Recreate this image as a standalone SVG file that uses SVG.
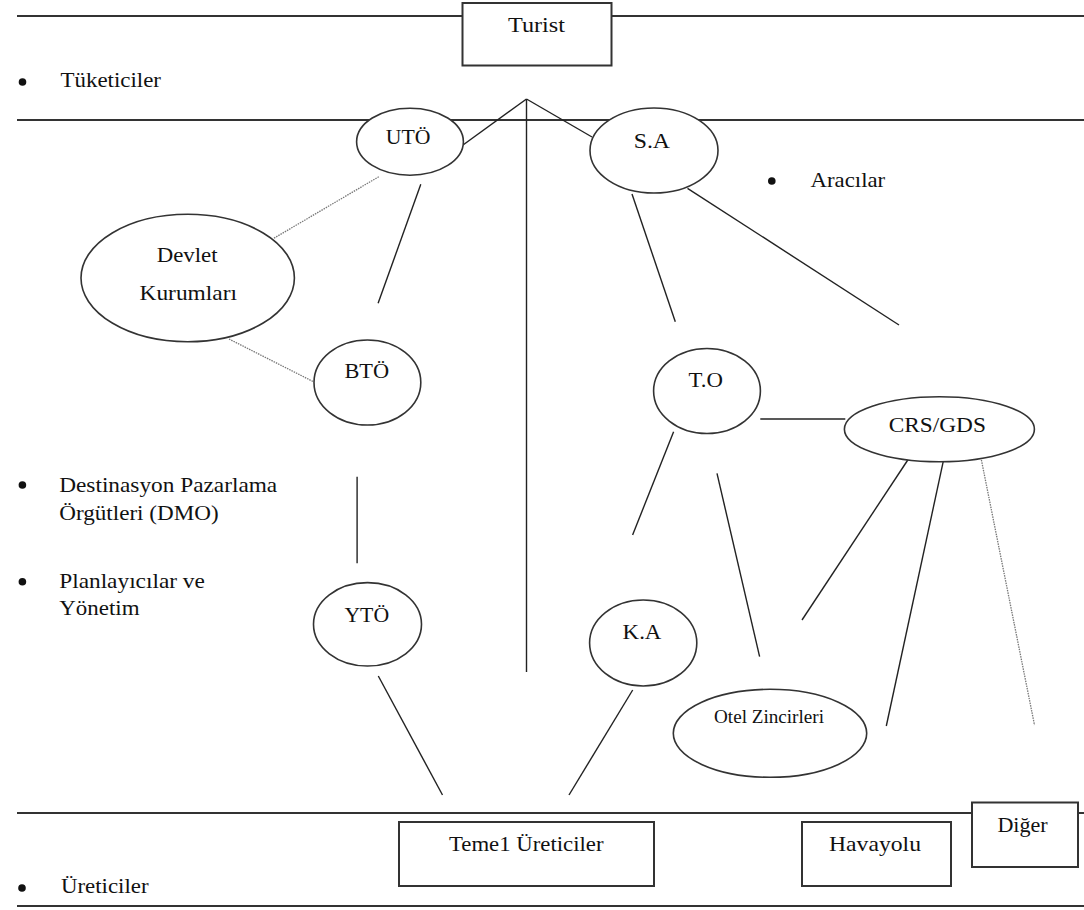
<svg xmlns="http://www.w3.org/2000/svg" width="1084" height="910" viewBox="0 0 1084 910">
<style>
.ln{stroke:#222;stroke-width:1.4;fill:none}
.hl{stroke:#333;stroke-width:2;fill:none}
.dt{stroke:#777;stroke-width:1.3;stroke-dasharray:1.5 1;fill:none}
.el{fill:#fff;stroke:#333;stroke-width:1.6}
.bx{fill:#fff;stroke:#333;stroke-width:2}
.t{font-family:'Liberation Serif','DejaVu Serif',serif;font-size:22px;fill:#111}
.sm{font-size:19px}
.bul{fill:#111}
</style>
<rect width="1084" height="910" fill="#fff"/>
<g id="frame">
<line class="hl" x1="17" y1="16" x2="462" y2="16"/>
<line class="hl" x1="611" y1="16" x2="1084" y2="16"/>
<line class="hl" x1="17" y1="120" x2="1084" y2="120"/>
<line class="hl" x1="17" y1="813" x2="1084" y2="813"/>
<line class="hl" x1="17" y1="906" x2="1084" y2="906"/>
</g>
<g id="connectors">
<line class="ln" x1="463" y1="145" x2="526.5" y2="99"/>
<line class="ln" x1="526.5" y1="99" x2="592" y2="137"/>
<line class="ln" x1="526.5" y1="99" x2="526.5" y2="672"/>
<line class="ln" x1="420.8" y1="184.3" x2="378.1" y2="303.3"/>
<line class="dt" x1="378.8" y1="176.7" x2="273.8" y2="238.3"/>
<line class="dt" x1="229" y1="339" x2="313.4" y2="381.7"/>
<line class="ln" x1="632" y1="194" x2="675.3" y2="321.7"/>
<line class="ln" x1="687.5" y1="188.3" x2="899" y2="325"/>
<line class="ln" x1="760.3" y1="419" x2="845.3" y2="419"/>
<line class="ln" x1="673.6" y1="431.7" x2="632.6" y2="535"/>
<line class="ln" x1="717" y1="473.3" x2="759.6" y2="656.7"/>
<line class="ln" x1="907.8" y1="460" x2="802" y2="620"/>
<line class="ln" x1="943.2" y1="461.7" x2="886.3" y2="726"/>
<line class="dt" x1="981.4" y1="460" x2="1034.5" y2="725"/>
<line class="ln" x1="357.1" y1="476.7" x2="357.1" y2="563.3"/>
<line class="ln" x1="378.3" y1="676" x2="442.5" y2="795"/>
<line class="ln" x1="632.7" y1="690" x2="569" y2="795"/>
</g>
<g font-family="'Liberation Serif', serif">
<g id="turist">
<rect class="bx" x="462.5" y="3" width="149" height="62.5"/>
<text class="t" x="508" y="32" textLength="57" lengthAdjust="spacingAndGlyphs">Turist</text>
</g>
<g id="tuketiciler">
<circle class="bul" cx="22.5" cy="82" r="3.8"/>
<text class="t" x="60.5" y="87" textLength="100.5" lengthAdjust="spacingAndGlyphs">Tüketiciler</text>
</g>
<g id="uto">
<ellipse class="el" cx="410" cy="141.7" rx="53.4" ry="33.5"/>
<text class="t" x="385.7" y="144" textLength="44.7" lengthAdjust="spacingAndGlyphs">UTÖ</text>
</g>
<g id="sa">
<ellipse class="el" cx="654" cy="150.5" rx="64" ry="42.5"/>
<text class="t" x="633.7" y="148.3" textLength="36.3" lengthAdjust="spacingAndGlyphs">S.A</text>
</g>
<g id="aracilar">
<circle class="bul" cx="771.8" cy="181" r="3.8"/>
<text class="t" x="810.6" y="186.7" textLength="74.6" lengthAdjust="spacingAndGlyphs">Aracılar</text>
</g>
<g id="devlet">
<ellipse class="el" cx="187.7" cy="278" rx="106.7" ry="63.7"/>
<text class="t" x="156.7" y="261.7" textLength="60.9" lengthAdjust="spacingAndGlyphs">Devlet</text>
<text class="t" x="139.5" y="300" textLength="97.5" lengthAdjust="spacingAndGlyphs">Kurumları</text>
</g>
<g id="bto">
<ellipse class="el" cx="367.4" cy="382.5" rx="53.4" ry="42.5"/>
<text class="t" x="344.4" y="378" textLength="44.7" lengthAdjust="spacingAndGlyphs">BTÖ</text>
</g>
<g id="to">
<ellipse class="el" cx="707" cy="391" rx="53.4" ry="42.5"/>
<text class="t" x="688.5" y="386.7" textLength="34.4" lengthAdjust="spacingAndGlyphs">T.O</text>
</g>
<g id="crsgds">
<ellipse class="el" cx="939.4" cy="429.2" rx="95" ry="32.5"/>
<text class="t" x="888.7" y="432.3" textLength="97.2" lengthAdjust="spacingAndGlyphs">CRS/GDS</text>
</g>
<g id="dmo">
<circle class="bul" cx="22.4" cy="485" r="3.8"/>
<text class="t" x="59.2" y="491.7" textLength="218" lengthAdjust="spacingAndGlyphs">Destinasyon Pazarlama</text>
<text class="t" x="59.2" y="520" textLength="159.5" lengthAdjust="spacingAndGlyphs">Örgütleri (DMO)</text>
</g>
<g id="planlayicilar">
<circle class="bul" cx="22.4" cy="581.7" r="3.8"/>
<text class="t" x="59.2" y="588.3" textLength="145.7" lengthAdjust="spacingAndGlyphs">Planlayıcılar ve</text>
<text class="t" x="59.2" y="614.5" textLength="80.3" lengthAdjust="spacingAndGlyphs">Yönetim</text>
</g>
<g id="yto">
<ellipse class="el" cx="367.5" cy="624.3" rx="54" ry="41.7"/>
<text class="t" x="344.4" y="621.7" textLength="44.7" lengthAdjust="spacingAndGlyphs">YTÖ</text>
</g>
<g id="ka">
<ellipse class="el" cx="643.2" cy="643" rx="53.6" ry="43"/>
<text class="t" x="622.6" y="639.3" textLength="38.8" lengthAdjust="spacingAndGlyphs">K.A</text>
</g>
<g id="otel">
<ellipse class="el" cx="770" cy="733.3" rx="96.7" ry="44"/>
<text class="t sm" x="714" y="723.3" textLength="110" lengthAdjust="spacingAndGlyphs">Otel Zincirleri</text>
</g>
<g id="temel">
<rect class="bx" x="399" y="822" width="255" height="64"/>
<text class="t" x="449" y="850.5" textLength="154.5" lengthAdjust="spacingAndGlyphs">Teme1 Üreticiler</text>
</g>
<g id="havayolu">
<rect class="bx" x="802" y="822" width="149" height="64"/>
<text class="t" x="829" y="850.5" textLength="92" lengthAdjust="spacingAndGlyphs">Havayolu</text>
</g>
<g id="diger">
<rect class="bx" x="972" y="802.5" width="106" height="64.5"/>
<text class="t" x="997.4" y="831.7" textLength="50.3" lengthAdjust="spacingAndGlyphs">Diğer</text>
</g>
<g id="ureticiler">
<circle class="bul" cx="22" cy="888" r="3.8"/>
<text class="t" x="61" y="893" textLength="87.6" lengthAdjust="spacingAndGlyphs">Üreticiler</text>
</g>
</g>
</svg>
